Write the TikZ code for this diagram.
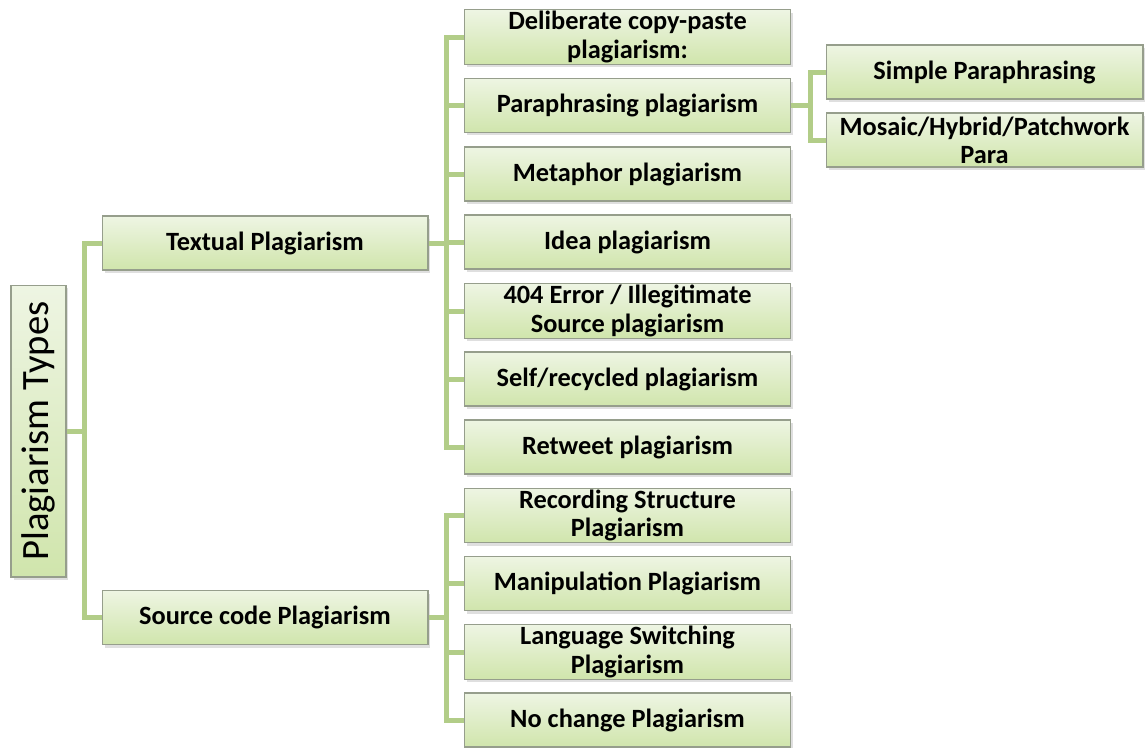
\documentclass[tikz,border=0pt]{standalone}
\usepackage{fontspec}
\setmainfont{Carlito}
\usetikzlibrary{shadows}
\definecolor{linkgreen}{RGB}{178,205,136}
\definecolor{boxtop}{RGB}{238,245,227}
\definecolor{boxbot}{RGB}{208,229,172}
\definecolor{boxline}{RGB}{150,158,140}
\tikzset{
  typebox/.style={draw=boxline, line width=0.6pt, top color=boxtop, bottom color=boxbot,
    minimum width=6.52cm, minimum height=1.08cm, align=center, inner sep=1pt,
    font=\fontsize{15}{16}\selectfont\bfseries,
    drop shadow={shadow xshift=0.05cm, shadow yshift=-0.06cm, opacity=0.25}},
  subbox/.style={typebox, minimum width=6.34cm},
  link/.style={draw=linkgreen, line width=0.1cm}
}
\begin{document}
\begin{tikzpicture}[x=0.02cm,y=-0.02cm]
\useasboundingbox (0,0) rectangle (1145,747);

% root
\node[typebox, minimum width=1.1cm, minimum height=5.84cm,
  font=\fontsize{22}{22}\selectfont] (root) at (38.5,431) {\rotatebox{90}{Plagiarism Types}};

% first level
\node[typebox] (textual) at (265,243) {Textual Plagiarism};
\node[typebox] (source) at (265,617.5) {Source code Plagiarism};

% textual plagiarism types
\node[typebox] (copy) at (627.5,37) {Deliberate copy-paste\\plagiarism:};
\node[typebox] (para) at (627.5,105.5) {Paraphrasing plagiarism};
\node[typebox] (meta) at (627.5,174) {Metaphor plagiarism};
\node[typebox] (idea) at (627.5,242) {Idea plagiarism};
\node[typebox] (err) at (627.5,311) {404 Error / Illegitimate\\Source plagiarism};
\node[typebox] (self) at (627.5,379) {Self/recycled plagiarism};
\node[typebox] (tweet) at (627.5,447) {Retweet plagiarism};

% source code types
\node[typebox] (record) at (627.5,515.5) {Recording Structure\\Plagiarism};
\node[typebox] (manip) at (627.5,583.5) {Manipulation Plagiarism};
\node[typebox] (lang) at (627.5,652) {Language Switching\\Plagiarism};
\node[typebox] (nochange) at (627.5,720) {No change Plagiarism};

% paraphrasing types
\node[subbox] (simple) at (984.5,72) {Simple Paraphrasing};
\node[subbox] (mosaic) at (984.5,140) {Mosaic/Hybrid/Patchwork\\Para};

% connectors
\coordinate (rootfork) at (84,431);
\coordinate (textfork) at (446,243);
\coordinate (srcfork) at (446,617.5);
\coordinate (parafork) at (810,105.5);

\draw[link] (root.east) -- (rootfork);
\foreach \n in {textual,source}
  \draw[link] (\n.west) -| (rootfork);

\draw[link] (textual.east) -- (textfork);
\foreach \n in {copy,para,meta,idea,err,self,tweet}
  \draw[link] (\n.west) -| (textfork);

\draw[link] (source.east) -- (srcfork);
\foreach \n in {record,manip,lang,nochange}
  \draw[link] (\n.west) -| (srcfork);

\draw[link] (para.east) -- (parafork);
\foreach \n in {simple,mosaic}
  \draw[link] (\n.west) -| (parafork);
\end{tikzpicture}
\end{document}
